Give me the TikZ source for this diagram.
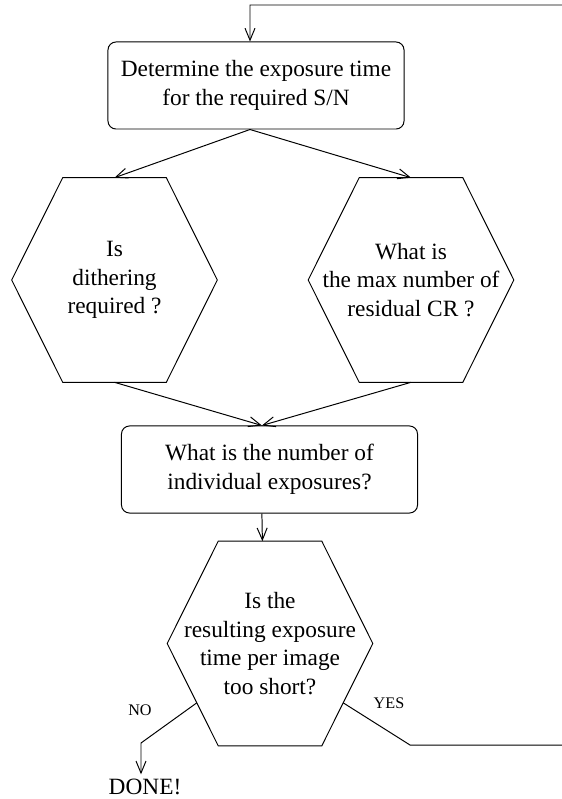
\documentclass[tikz,border=0pt]{standalone}
\usepackage{fontspec}
\setmainfont{Liberation Serif}
\usetikzlibrary{arrows.meta,calc}

\begin{document}
\begin{tikzpicture}[x=0.025cm, y=-0.025cm,
    box/.style={draw, rounded corners=0.2cm, minimum width=7.4cm, minimum height=2.175cm, align=center, font=\fontsize{16.6}{20.3}\selectfont, line width=0.7pt},
    hex/.style={minimum width=5.125cm, minimum height=5.1cm, inner sep=0pt, align=center, font=\fontsize{16.6}{20.3}\selectfont},
    lbl/.style={font=\fontsize{11.5}{13}\selectfont},
    arr/.style={-{Straight Barb[length=0.3cm,width=0.25cm]}, line width=0.7pt}
]
\useasboundingbox (0,0) rectangle (561,799);
\node[box] (det) at (256,85.5) {Determine the exposure time\\for the required S/N};
\node[hex] (dith) at (114.5,280) {Is\\dithering\\required ?};
\node[hex] (resid) at (411,280) {What is\\the max number of\\residual CR ?};
\node[box] (indiv) at (269.5,469.5) {What is the number of\\individual exposures?};
\node[hex] (short) at (270,643.5) {Is the\\resulting exposure\\time per image\\too short?};
\node[font=\fontsize{16.6}{20.3}\selectfont, inner sep=0.1cm] (done) at (145,786.5) {DONE!};

\foreach \n in {dith,resid,short} {
  \coordinate (\n-nw) at ([xshift=1.275cm]\n.north west);
  \coordinate (\n-ne) at ([xshift=-1.275cm]\n.north east);
  \coordinate (\n-se) at ([xshift=-1.275cm]\n.south east);
  \coordinate (\n-sw) at ([xshift=1.275cm]\n.south west);
  \draw[line width=0.7pt] (\n-nw) -- (\n-ne) -- (\n.east) -- (\n-se) -- (\n-sw) -- (\n.west) -- cycle;
}

\coordinate (detout) at ([xshift=-0.15cm]det.south);
\draw[arr] (detout) -- (dith.north);
\draw[arr] (detout) -- (resid.north);
\draw[arr] (dith.south) -- ([xshift=-0.19cm]indiv.north);
\draw[arr] (resid.south) -- ([xshift=-0.19cm]indiv.north);
\draw[arr] ([xshift=-0.19cm]indiv.south) -- ([xshift=-0.19cm]short.north);

\coordinate (nostart) at ($(short.west)!0.58!(short-sw)$);
\coordinate (nobend) at (141,743);
\draw[arr] (nostart) -- (nobend) -- (nobend |- done.north);
\node[lbl] (no) at (140,710) {NO};

\coordinate (yesstart) at ($(short.east)!0.58!(short-se)$);
\coordinate (yesbend) at (410,745);
\coordinate (loopr) at (575,5);
\coordinate (loopin) at ([xshift=-0.15cm]det.north);
\draw[arr] (yesstart) -- (yesbend) -- (yesbend -| loopr) -- (loopr) -- (loopin |- loopr) -- (loopin);
\node[lbl] (yes) at (389,703) {YES};
\end{tikzpicture}
\end{document}
